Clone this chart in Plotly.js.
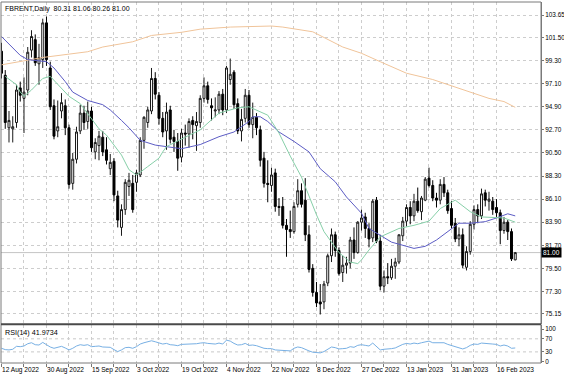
<!DOCTYPE html>
<html><head><meta charset="utf-8">
<script src="https://cdn.plot.ly/plotly-3.0.1.min.js"></script>
<style>html,body{margin:0;padding:0;background:#fff}#chart{width:564px;height:376px}</style>
</head><body><div id="chart"></div>
<script>
// ---- data ----
const dates = [
'2022-08-12','2022-08-15','2022-08-16','2022-08-17','2022-08-18','2022-08-19','2022-08-22','2022-08-23','2022-08-24','2022-08-25','2022-08-26','2022-08-29','2022-08-30','2022-08-31',
'2022-09-01','2022-09-02','2022-09-05','2022-09-06','2022-09-07','2022-09-08','2022-09-09','2022-09-12','2022-09-13','2022-09-14','2022-09-15','2022-09-16','2022-09-19','2022-09-20','2022-09-21','2022-09-22','2022-09-23','2022-09-26','2022-09-27','2022-09-28','2022-09-29','2022-09-30',
'2022-10-03','2022-10-04','2022-10-05','2022-10-06','2022-10-07','2022-10-10','2022-10-11','2022-10-12','2022-10-13','2022-10-14','2022-10-17','2022-10-18','2022-10-19','2022-10-20','2022-10-21','2022-10-24','2022-10-25','2022-10-26','2022-10-27','2022-10-28','2022-10-31',
'2022-11-01','2022-11-02','2022-11-03','2022-11-04','2022-11-07','2022-11-08','2022-11-09','2022-11-10','2022-11-11','2022-11-14','2022-11-15','2022-11-16','2022-11-17','2022-11-18','2022-11-21','2022-11-22','2022-11-23','2022-11-24','2022-11-25','2022-11-28','2022-11-29','2022-11-30',
'2022-12-01','2022-12-02','2022-12-05','2022-12-06','2022-12-07','2022-12-08','2022-12-09','2022-12-12','2022-12-13','2022-12-14','2022-12-15','2022-12-16','2022-12-19','2022-12-20','2022-12-21','2022-12-22','2022-12-23','2022-12-27','2022-12-28','2022-12-29','2022-12-30',
'2023-01-03','2023-01-04','2023-01-05','2023-01-06','2023-01-09','2023-01-10','2023-01-11','2023-01-12','2023-01-13','2023-01-16','2023-01-17','2023-01-18','2023-01-19','2023-01-20','2023-01-23','2023-01-24','2023-01-25','2023-01-26','2023-01-27','2023-01-30','2023-01-31',
'2023-02-01','2023-02-02','2023-02-03','2023-02-06','2023-02-07','2023-02-08','2023-02-09','2023-02-10','2023-02-13','2023-02-14','2023-02-15','2023-02-16','2023-02-17','2023-02-20','2023-02-21','2023-02-22','2023-02-23'];

const open = [100.2,97.9,92.9,92.8,93.4,96.7,95.7,96.5,100.3,101.3,99.0,99.4,102.9,98.6,
95.0,92.6,94.5,95.0,92.9,87.6,89.9,92.6,94.3,93.5,94.5,90.6,91.2,92.0,90.8,89.0,89.7,86.4,83.4,85.1,87.3,87.6,
87.7,88.4,91.7,93.4,94.5,97.6,96.0,93.8,92.6,94.6,92.0,91.6,90.1,92.4,92.3,93.6,93.1,93.4,95.7,96.9,95.0,
94.5,94.6,96.1,94.6,97.5,98.2,95.2,92.6,93.8,96.0,93.2,93.9,92.7,90.0,87.6,87.4,88.6,85.4,85.4,83.6,83.2,83.0,
85.6,86.9,86.0,82.7,79.5,77.2,76.3,76.3,78.1,80.7,82.7,81.2,79.1,79.8,80.0,82.2,81.0,83.9,84.4,83.3,82.4,
86.0,82.1,77.8,78.7,78.6,79.7,80.1,82.6,84.0,85.3,84.5,85.9,84.9,86.0,88.1,87.4,86.2,86.0,87.5,86.7,85.2,
83.8,82.3,82.7,79.6,81.1,83.7,85.1,84.5,86.7,85.9,85.9,85.3,84.8,83.1,83.9,83.0,80.31];
const high = [101.0,98.4,94.5,94.0,97.0,97.3,97.7,100.6,102.2,101.8,100.9,103.3,103.5,99.2,
95.6,95.5,96.2,95.6,93.2,90.5,93.0,95.1,95.0,95.4,94.9,91.9,92.6,92.6,92.0,90.4,90.0,86.9,85.6,88.0,88.6,88.4,
88.9,92.0,94.0,94.9,98.6,98.2,96.3,94.4,95.3,95.0,92.7,92.4,92.8,93.2,93.8,94.0,94.4,96.0,97.7,97.3,95.7,
95.8,96.4,96.6,98.8,99.5,98.4,95.7,94.7,96.6,96.5,95.3,94.3,93.1,90.6,89.8,89.1,89.0,86.2,86.3,84.2,85.0,85.8,
88.0,87.6,88.1,83.6,79.9,78.2,78.0,78.3,80.9,83.3,83.0,81.5,80.7,80.6,82.5,83.4,84.0,85.1,84.8,83.8,86.1,
86.3,82.7,79.3,80.0,80.4,80.5,82.7,84.4,85.6,85.9,86.6,87.2,86.4,88.2,89.1,87.9,86.7,88.0,88.2,87.0,85.9,
84.3,83.4,83.3,81.6,84.0,85.5,85.6,87.1,87.0,86.8,86.3,86.1,85.1,84.4,84.1,83.3,81.06];
const low = [97.6,92.8,91.5,91.5,92.9,95.4,92.4,96.0,99.6,98.8,97.0,98.6,98.8,94.6,
91.8,92.0,93.8,92.2,87.1,87.0,89.5,92.3,92.7,92.8,90.6,89.9,89.8,90.2,89.4,88.4,85.9,83.4,82.6,84.6,86.4,84.8,
86.8,88.2,90.9,92.9,94.2,95.6,93.2,92.0,90.8,91.4,90.6,88.8,89.6,91.2,91.0,91.8,90.7,92.9,95.3,95.2,93.6,
93.9,94.2,94.1,94.3,97.0,94.7,92.3,91.6,93.4,92.9,91.9,92.2,89.2,87.2,85.8,86.8,84.9,84.5,83.3,80.6,82.4,82.8,
85.3,85.3,82.1,79.1,76.8,75.8,75.1,75.6,77.8,80.1,80.6,78.8,78.2,79.0,79.5,80.4,80.9,83.1,82.4,81.5,82.0,
81.9,77.4,77.2,78.0,78.4,78.5,79.9,82.1,83.5,83.7,84.0,84.8,84.1,85.9,87.2,85.9,85.3,85.6,86.3,84.7,83.3,
82.0,81.6,79.5,79.3,80.8,83.2,83.8,84.2,85.4,85.0,84.6,84.4,81.8,82.8,82.2,80.2,80.26];
const close = [98.1,93.4,93.6,93.0,96.5,96.0,96.3,100.1,101.6,99.1,99.6,102.9,99.4,94.9,
92.1,93.0,95.3,92.9,87.5,89.9,92.5,94.3,93.4,94.5,91.0,91.5,92.1,90.6,89.8,89.6,86.5,84.1,85.1,87.7,87.9,85.1,
88.6,91.7,93.9,94.6,97.6,96.1,93.8,92.5,94.4,91.8,91.6,90.0,92.4,92.3,93.5,93.2,93.5,95.7,96.9,95.6,94.8,
94.6,96.1,94.6,98.6,98.0,95.1,92.6,93.7,96.0,93.2,93.9,92.9,89.8,87.6,87.5,88.4,85.4,85.3,83.6,83.2,83.0,85.4,
86.9,85.6,82.7,79.4,77.2,76.2,76.1,78.0,80.7,82.7,81.2,79.0,79.8,80.0,82.2,81.0,83.9,84.3,83.3,82.3,85.9,
82.1,77.8,78.7,78.6,79.7,80.1,82.7,84.0,85.3,84.5,85.9,85.0,86.2,88.0,87.4,86.2,86.0,87.5,86.7,85.0,83.6,
82.3,82.7,79.8,81.1,83.7,85.1,84.5,86.6,86.0,86.1,85.1,84.8,83.1,83.9,83.0,80.4,81.00];

const rsi = [41,37,36,38,47,46,48,55,58,52,51,59,52,45,
41,43,47,42,36,41,48,52,50,52,46,47,48,45,44,44,37,31,36,43,44,41,
46,54,58,60,64,61,57,54,56,52,51,49,53,53,54,54,55,57,58,56,54,
54,57,54,66,63,56,51,52,56,50,51,49,44,41,40,40,36,35,33,32,33,41,
45,43,37,33,29,27,27,31,37,45,43,39,40,41,46,44,50,52,50,48,57,
46,36,38,38,40,42,48,53,56,54,57,55,58,61,63,58,58,60,58,53,50,
46,44,39,43,50,54,53,57,57,55,54,53,48,51,48,41,42];

// moving averages (bar index, value) read where the lines cross
const maSlowIdx = [0,11,23,27,35,40,48,53,61,72,75,83,91,96,101,104,108,115,121,130,134,137];
const maSlowVal = [98.9,99.6,100.15,100.6,101.1,101.7,102.0,102.3,102.5,102.6,102.5,102.05,100.6,100.0,99.2,98.7,98.1,97.5,96.8,95.7,95.4,94.85];
const maMidIdx = [0,3,5,7,10,12,14,17,19,23,27,29,32,34,37,41,44,48,53,58,62,66,67,69,71,74,78,82,85,89,92,96,98,104,110,113,116,121,122,125,129,132,135,137];
const maMidVal = [101.6,100.5,99.8,99.4,99.3,99.2,98.6,97.3,96.3,95.5,95.1,94.6,93.6,92.9,91.7,91.25,91.1,90.9,91.3,92.05,92.5,93.5,93.95,93.95,93.5,92.5,91.6,90.6,89.0,87.75,86.3,84.75,83.3,82.0,81.4,81.6,82.2,83.5,83.8,83.8,83.95,84.3,84.7,84.5];
const maFastIdx = [1,4,5,6,8,10,11,13,15,18,21,24,26,28,30,32,34,36,39,42,43,44,49,53,58,63,66,71,74,77,80,82,84,86,88,90,93,95,96,98,101,106,110,114,117,121,125,128,134,137];
const maFastVal = [97.8,97.0,96.3,95.9,96.5,97.3,97.6,97.8,97.0,95.9,95.2,93.8,92.8,92.2,91.2,90.3,88.9,88.4,89.2,90.0,90.6,91.1,92.0,92.7,94.3,94.8,94.9,94.1,92.4,90.2,88.2,86.3,84.6,83.0,82.0,81.0,80.1,79.95,80.3,81.25,82.5,83.3,83.6,84.0,85.2,86.0,84.9,84.4,84.3,83.9];

const priceTicks = [75.15,77.30,79.50,81.70,83.90,86.10,88.30,90.50,92.70,94.90,97.10,99.30,101.50,103.65];
const rsiTicks = [0,30,70,100];
const rsiLevels = [30,70];
const symbol = 'FBRENT', period = 'Daily';
const rsiLabel = 'RSI(14) 41.9734';
const months = ['Jan','Feb','Mar','Apr','May','Jun','Jul','Aug','Sep','Oct','Nov','Dec'];

// ---- build ----
const fmtDate = s => { const p = s.split('-'); return (+p[2]) + ' ' + months[+p[1]-1] + ' ' + p[0]; };
const tickVals = [], tickText = [];
dates.forEach((d,i) => { if (i % 6 === 0) { tickVals.push(d); tickText.push(i % 12 === 0 ? fmtDate(d) : ''); } });
const pick = idx => idx.map(i => dates[i]);
const last = dates.length - 1;
const FONT = 'Liberation Sans, Arial, sans-serif';

const traces = [
  {type:'candlestick', x:dates, open:open, high:high, low:low, close:close, xaxis:'x', yaxis:'y',
   whiskerwidth:0,
   increasing:{line:{color:'#1a1a1a', width:1}, fillcolor:'#ffffff'},
   decreasing:{line:{color:'#000000', width:1}, fillcolor:'#000000'},
   hoverinfo:'skip'},
  {type:'scatter', mode:'lines', x:pick(maSlowIdx), y:maSlowVal, xaxis:'x', yaxis:'y',
   line:{color:'#f0c49a', width:1}, hoverinfo:'skip'},
  {type:'scatter', mode:'lines', x:pick(maMidIdx), y:maMidVal, xaxis:'x', yaxis:'y',
   line:{color:'#5c5cc4', width:1}, hoverinfo:'skip'},
  {type:'scatter', mode:'lines', x:pick(maFastIdx), y:maFastVal, xaxis:'x', yaxis:'y',
   line:{color:'#86cfa8', width:1}, hoverinfo:'skip'},
  {type:'scatter', mode:'lines', x:dates, y:rsi, xaxis:'x', yaxis:'y2',
   line:{color:'#78b0e4', width:1}, hoverinfo:'skip'}
];

const shapes = [
  {type:'line', xref:'paper', x0:0, x1:1, yref:'y', y0:close[last], y1:close[last],
   line:{color:'#c4c4c4', width:1}, layer:'below'},
  {type:'rect', xref:'paper', yref:'paper', x0:0, x1:1, y0:0, y1:1, line:{color:'#7a7a7a', width:1}},
  {type:'line', xref:'paper', yref:'paper', x0:0, x1:1, y0:0.107, y1:0.107, line:{color:'#4a4a4a', width:2}}
];
rsiLevels.forEach(v => shapes.push({type:'line', xref:'paper', x0:0, x1:1, yref:'y2', y0:v, y1:v,
  line:{color:'#c8c8c8', width:1, dash:'dot'}, layer:'below'}));

const annotations = [
  {xref:'paper', yref:'paper', x:0, y:1, xanchor:'left', yanchor:'top', xshift:2, yshift:-1, showarrow:false,
   text: symbol + ',' + period + '&nbsp;&nbsp;' + open[last].toFixed(2) + ' ' + high[last].toFixed(2) + ' ' + low[last].toFixed(2) + ' ' + close[last].toFixed(2),
   font:{family:FONT, size:7, color:'#000'}},
  {xref:'paper', yref:'paper', x:0, y:0.104, xanchor:'left', yanchor:'top', xshift:2, yshift:-1, showarrow:false,
   text: rsiLabel, font:{family:FONT, size:7.2, color:'#000'}},
  {xref:'paper', yref:'y', x:1, y:close[last], xanchor:'left', yanchor:'middle', xshift:0, showarrow:false,
   text: close[last].toFixed(2), bgcolor:'#000000', borderpad:1,
   font:{family:FONT, size:6.5, color:'#ffffff'}}
];

const layout = {
  width:564, height:376,
  margin:{l:1, r:23, t:2, b:13, pad:0},
  paper_bgcolor:'#ffffff', plot_bgcolor:'#ffffff',
  showlegend:false, hovermode:false, boxgap:0.25,
  font:{family:FONT, size:6.5, color:'#000'},
  xaxis:{type:'category', categoryorder:'array', categoryarray:dates, anchor:'y2', range:[-0.13, 143.87], rangeslider:{visible:false},
    tickmode:'array', tickvals:tickVals, ticktext:tickText, ticklabelposition:'outside right', tickangle:0,
    ticks:'outside', ticklen:3, tickcolor:'#777', tickfont:{family:FONT, size:6.6, color:'#000'},
    showgrid:true, gridcolor:'#cdcdcd', griddash:'dot', gridwidth:1,
    showline:false, zeroline:false, fixedrange:true},
  yaxis:{domain:[0.1094, 1], range:[74.24, 104.89], side:'right',
    tickmode:'array', tickvals:priceTicks, ticktext:priceTicks.map(v => v.toFixed(2)),
    ticks:'outside', ticklen:2, tickcolor:'#777', tickfont:{family:FONT, size:6.4, color:'#000'},
    showgrid:true, gridcolor:'#cdcdcd', griddash:'dot', gridwidth:1,
    showline:true, linecolor:'#7a7a7a', zeroline:false, fixedrange:true},
  yaxis2:{domain:[0, 0.105], range:[-4, 112], side:'right',
    tickmode:'array', tickvals:rsiTicks, ticktext:rsiTicks.map(String),
    ticks:'outside', ticklen:2, tickcolor:'#777', tickfont:{family:FONT, size:6.4, color:'#000'},
    showgrid:false, showline:true, linecolor:'#7a7a7a', zeroline:false, fixedrange:true},
  shapes:shapes, annotations:annotations
};

Plotly.newPlot('chart', traces, layout, {staticPlot:true, displayModeBar:false});
</script>
</body></html>
